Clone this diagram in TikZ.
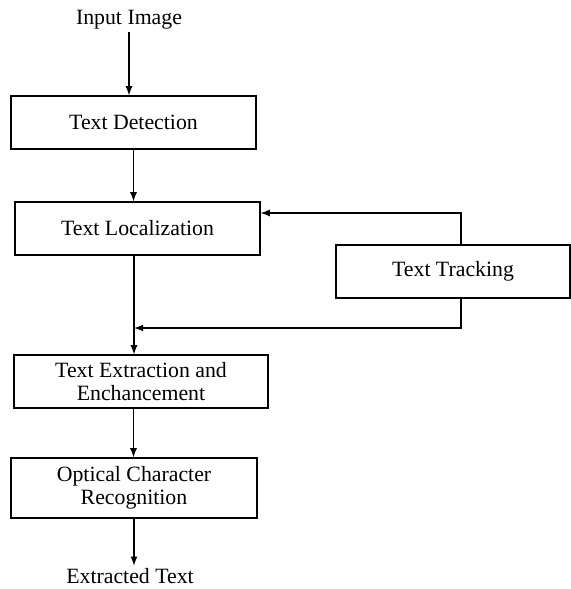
\documentclass[tikz,border=0pt]{standalone}
\usepackage{fontspec}
\setmainfont{Liberation Serif}
\begin{document}
\begin{tikzpicture}[x=0.5pt,y=-0.5pt,line width=0.6pt,>=latex,
            box/.style={draw,align=center,minimum height=26.5pt,inner sep=2pt},
            lbl/.style={inner sep=1pt},
            every node/.style={font=\fontsize{10.9}{11.5}\selectfont}]
            \useasboundingbox (0,0) rectangle (571,589);
            \node [lbl] (in) at (129,20) {Input Image};
            \node [box,minimum width=122.5pt] (det) at (133.5,122.5) {Text Detection};
            \node [box,minimum width=122.5pt] (loc) at (137.5,228.5) {Text Localization};
            \node [box,minimum width=117pt] (trk) at (453,271.5) {Text Tracking};
            \node [box,minimum width=127pt] (ext) at (141,381.5) {Text Extraction and\\Enchancement};
            \node [box,minimum width=123pt,minimum height=30pt] (ocr) at (134,488) {Optical Character\\Recognition};
            \node [lbl] (out) at (130,576) {Extracted Text};
            \coordinate (back) at (461,213);
            \coordinate (join) at (134,328);
            \draw[->] (in.south) -- (in.south |- det.north);
            \draw[->] (det.south) -- (det.south |- loc.north);
            \draw[-] (loc.south -| join) -- (join);
            \draw[->] (join) -- (join |- ext.north);
            \draw[->] (trk.north -| back) -- (back) -- (back -| loc.east);
            \draw[->] (trk.south -| back) |- (join);
            \draw[->] (ext.south -| det.south) -- (det.south |- ocr.north);
            \draw[->] (ocr.south) -- (ocr.south |- out.north);
\end{tikzpicture}
\end{document}
